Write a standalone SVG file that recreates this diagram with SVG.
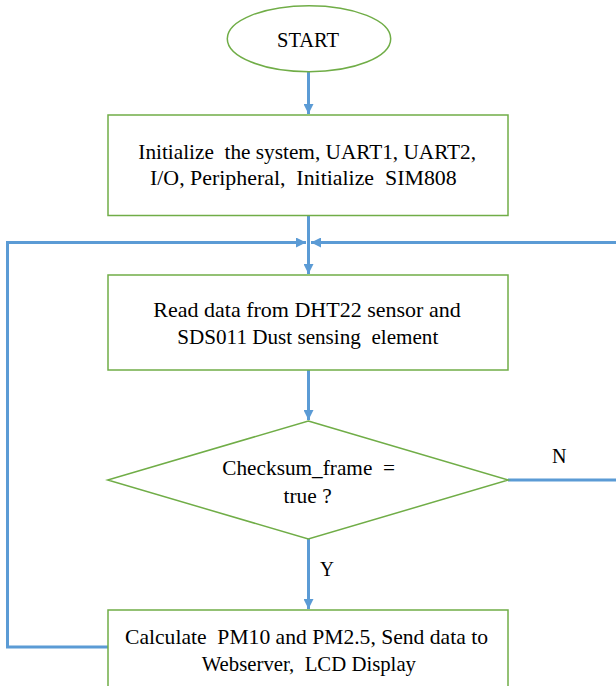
<svg xmlns="http://www.w3.org/2000/svg" width="616" height="686" viewBox="0 0 616 686">
<style>
.node{fill:#ffffff;stroke:#70AD47;stroke-width:1.5}
.conn{fill:none;stroke:#5B9BD5;stroke-width:3}
text{white-space:pre}
</style>
<defs>
<marker id="ah" viewBox="0 0 10 10" refX="10" refY="5" markerWidth="10" markerHeight="10" markerUnits="userSpaceOnUse" orient="auto">
<path d="M0,0 L10,5 L0,10 Z" fill="#5B9BD5"/>
</marker>
</defs>
<rect width="616" height="686" fill="#ffffff"/>
<g id="connectors">
<path class="conn" d="M308.5,72 V114" marker-end="url(#ah)"/>
<path class="conn" d="M308.5,216 V274" marker-end="url(#ah)"/>
<path class="conn" d="M308.5,370 V420" marker-end="url(#ah)"/>
<path class="conn" d="M308.5,539 V609" marker-end="url(#ah)"/>
<path class="conn" d="M108,647 H7.5 V242.5 H306" marker-end="url(#ah)"/>
<path class="conn" d="M508,480 H618 V242.5 H311" marker-end="url(#ah)"/>
</g>
<g font-family="'Liberation Serif', 'Times New Roman', 'DejaVu Serif', serif" font-size="21" fill="#000000">
<g id="start">
<ellipse class="node" cx="309" cy="38.7" rx="81.7" ry="33"/>
<text x="277" y="46.5" textLength="62" lengthAdjust="spacingAndGlyphs">START</text>
</g>
<g id="init">
<rect class="node" x="108" y="115" width="400" height="100.5"/>
<text x="138.3" y="159.3" textLength="337.7" lengthAdjust="spacingAndGlyphs">Initialize  the system, UART1, UART2,</text>
<text x="150" y="185.3" textLength="306.7" lengthAdjust="spacingAndGlyphs">I/O, Peripheral,  Initialize  SIM808</text>
</g>
<g id="read">
<rect class="node" x="108" y="275" width="400" height="95"/>
<text x="153.3" y="317.3" textLength="307.4" lengthAdjust="spacingAndGlyphs">Read data from DHT22 sensor and</text>
<text x="177.3" y="344" textLength="261" lengthAdjust="spacingAndGlyphs">SDS011 Dust sensing  element</text>
</g>
<g id="check">
<polygon class="node" points="308.3,421 508.3,480 308.3,539 107.7,480"/>
<text x="222.3" y="475" textLength="172.7" lengthAdjust="spacingAndGlyphs">Checksum_frame  =</text>
<text x="283.5" y="503.3" textLength="48.2" lengthAdjust="spacingAndGlyphs">true ?</text>
</g>
<g id="labels">
<text x="552" y="462.7" textLength="14.5" lengthAdjust="spacingAndGlyphs">N</text>
<text x="320" y="576" textLength="14" lengthAdjust="spacingAndGlyphs">Y</text>
</g>
<g id="calc">
<rect class="node" x="108" y="610" width="400" height="90"/>
<text x="125" y="644.3" textLength="363" lengthAdjust="spacingAndGlyphs">Calculate  PM10 and PM2.5, Send data to</text>
<text x="201.7" y="670.5" textLength="214.3" lengthAdjust="spacingAndGlyphs">Webserver,  LCD Display</text>
</g>
</g>
</svg>
